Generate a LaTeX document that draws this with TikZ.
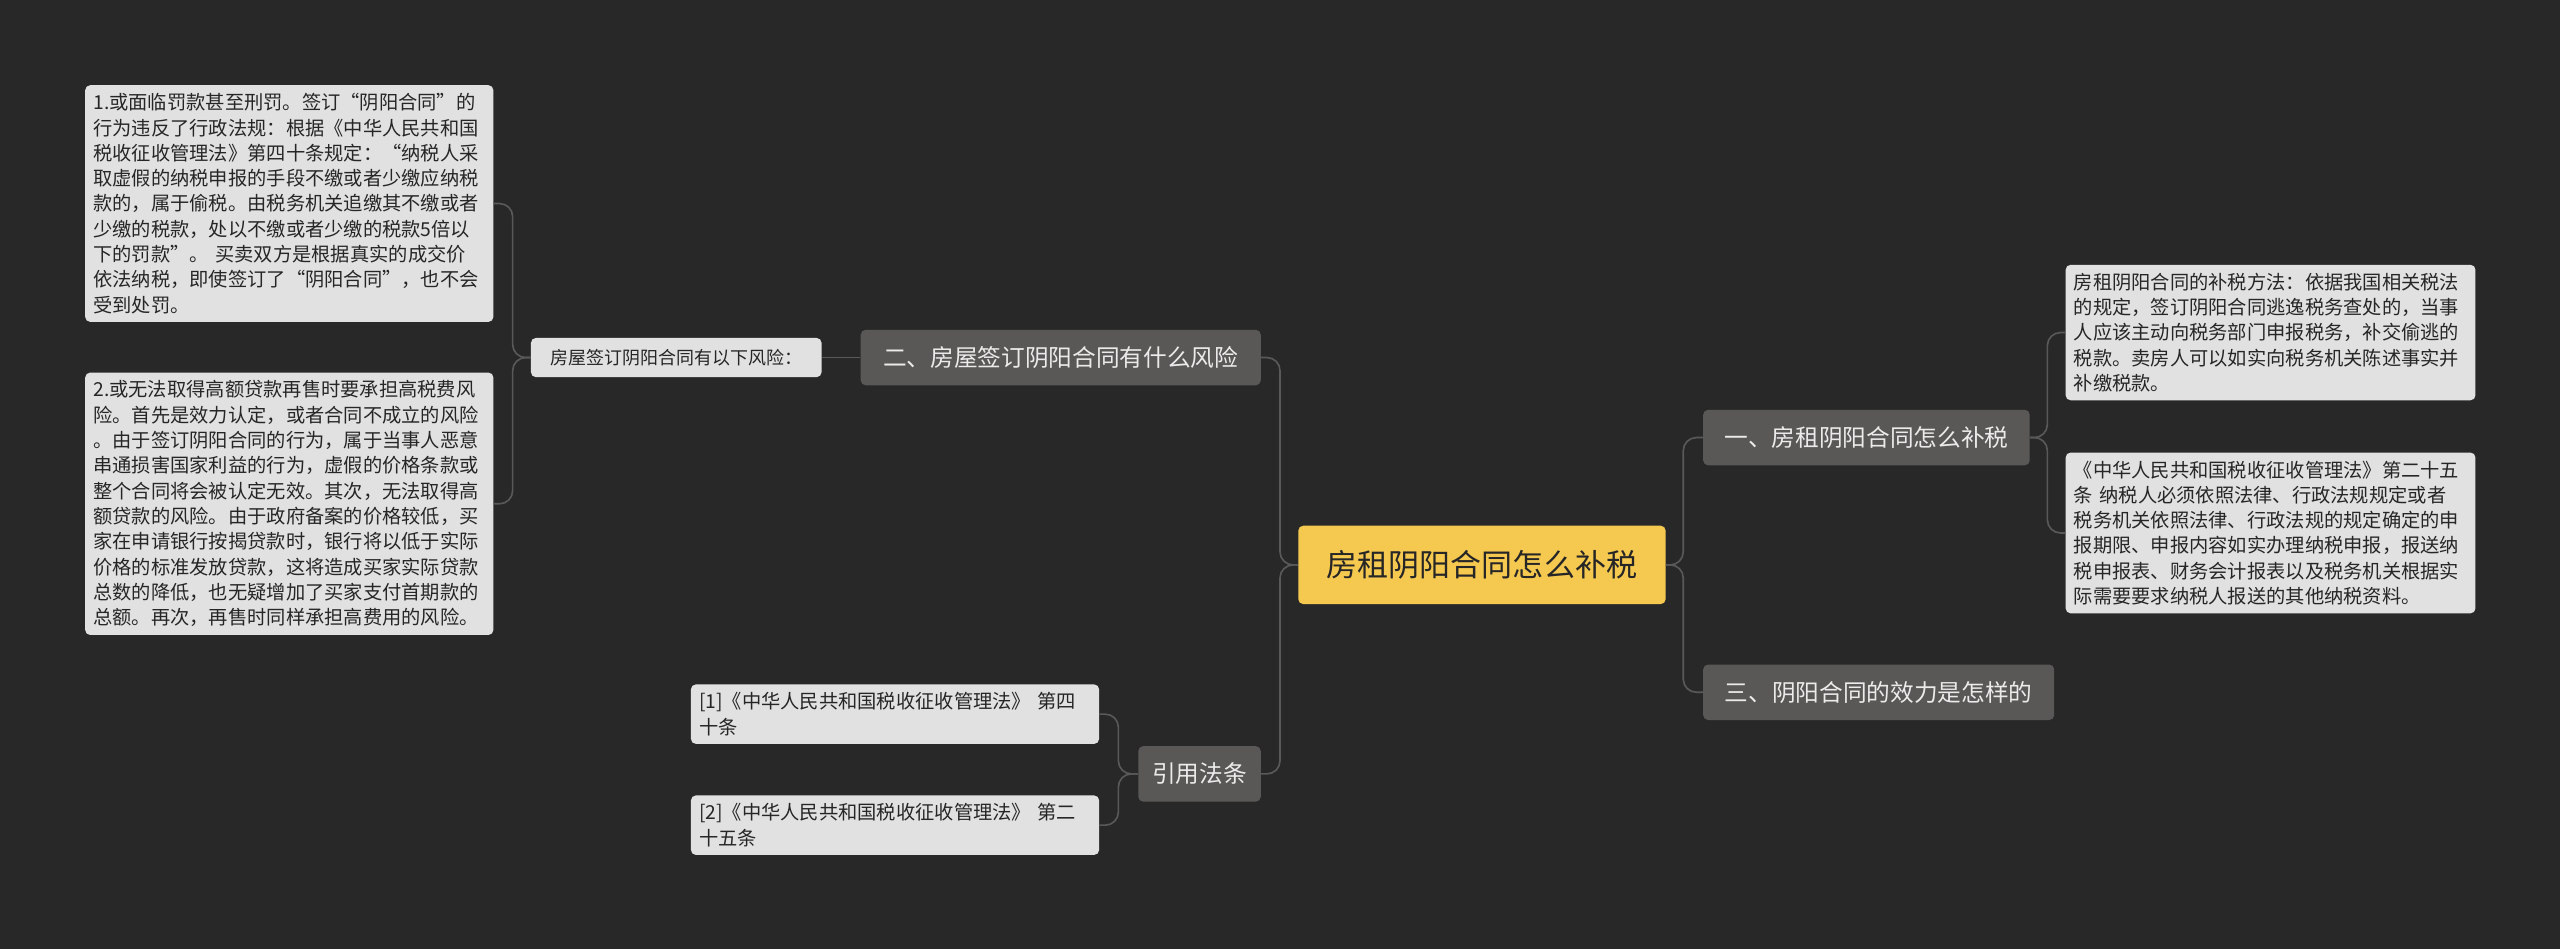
\documentclass[tikz,border=0pt]{standalone}
\usepackage{fontspec}
\setmainfont{Noto Sans CJK SC}
\definecolor{bg}{RGB}{40,40,40}
\definecolor{gold}{RGB}{245,200,80}
\definecolor{br}{RGB}{90,88,86}
\definecolor{lf}{RGB}{225,225,225}
\begin{document}
\begin{tikzpicture}[x=1pt,y=-1pt,
  conn/.style={draw=gray!70!black,line width=1pt,rounded corners=8pt},
  root/.style={fill=gold,rounded corners=3pt,text=black!85,font=\fontsize{19}{22}\selectfont,minimum height=48pt,minimum width=225pt,anchor=west},
  branch/.style={fill=br,rounded corners=3pt,text=white!92!black,font=\fontsize{14.5}{16}\selectfont,minimum height=34pt,anchor=west},
  leaf/.style={fill=lf,rounded corners=3pt,text=black!85,font=\fontsize{11.8}{15.5}\selectfont,align=left,inner sep=5pt,text width=240pt,anchor=north west},
]
\fill[bg] (0,0) rectangle (1568,581);
\useasboundingbox (0,0) rectangle (1568,581);

\node[root] (c) at (795,346) {房租阴阳合同怎么补税};
\node[branch,minimum width=245pt] (b2) at (527,219) {二、房屋签订阴阳合同有什么风险};
\node[leaf,text width=,anchor=west,font=\fontsize{11}{13}\selectfont,minimum height=24pt,minimum width=178pt] (s) at (325,219) {房屋签订阴阳合同有以下风险：};
\node[leaf] (l1) at (52,52) {1.或面临罚款甚至刑罚。签订“阴阳合同”的\\行为违反了行政法规：根据《中华人民共和国\\税收征收管理法》第四十条规定：“纳税人采\\取虚假的纳税申报的手段不缴或者少缴应纳税\\款的，属于偷税。由税务机关追缴其不缴或者\\少缴的税款，处以不缴或者少缴的税款5倍以\\下的罚款”。 买卖双方是根据真实的成交价\\依法纳税，即使签订了“阴阳合同”，也不会\\受到处罚。};
\node[leaf] (l2) at (52,228) {2.或无法取得高额贷款再售时要承担高税费风\\险。首先是效力认定，或者合同不成立的风险\\。由于签订阴阳合同的行为，属于当事人恶意\\串通损害国家利益的行为，虚假的价格条款或\\整个合同将会被认定无效。其次，无法取得高\\额贷款的风险。由于政府备案的价格较低，买\\家在申请银行按揭贷款时，银行将以低于实际\\价格的标准发放贷款，这将造成买家实际贷款\\总数的降低，也无疑增加了买家支付首期款的\\总额。再次，再售时同样承担高费用的风险。};
\node[branch,minimum width=75pt] (b4) at (697,474) {引用法条};
\node[leaf] (r1) at (423,419) {[1]《中华人民共和国税收征收管理法》 第四\\十条};
\node[leaf] (r2) at (423,487) {[2]《中华人民共和国税收征收管理法》 第二\\十五条};
\node[branch,minimum width=200pt] (b1) at (1043,268) {一、房租阴阳合同怎么补税};
\node[leaf,text width=241pt] (q1) at (1265,162) {房租阴阳合同的补税方法：依据我国相关税法\\的规定，签订阴阳合同逃逸税务查处的，当事\\人应该主动向税务部门申报税务，补交偷逃的\\税款。卖房人可以如实向税务机关陈述事实并\\补缴税款。};
\node[leaf,text width=241pt] (q2) at (1265,277) {《中华人民共和国税收征收管理法》第二十五\\条 纳税人必须依照法律、行政法规规定或者\\税务机关依照法律、行政法规的规定确定的申\\报期限、申报内容如实办理纳税申报，报送纳\\税申报表、财务会计报表以及税务机关根据实\\际需要要求纳税人报送的其他纳税资料。};
\node[branch,minimum width=215pt] (b3) at (1043,424) {三、阴阳合同的效力是怎样的};

\draw[conn] (c.west) -- (784,346) |- (b2.east);
\draw[conn] (c.west) -- (784,346) |- (b4.east);
\draw[conn] (c.east) -- (1031,346) |- (b1.west);
\draw[conn] (c.east) -- (1031,346) |- (b3.west);
\draw[conn] (b2.west) -- (s.east);
\draw[conn] (s.west) -- (314,219) |- (l1.east);
\draw[conn] (s.west) -- (314,219) |- (l2.east);
\draw[conn] (b4.west) -- (685,474) |- (r1.east);
\draw[conn] (b4.west) -- (685,474) |- (r2.east);
\draw[conn] (b1.east) -- (1254,268) |- (q1.west);
\draw[conn] (b1.east) -- (1254,268) |- (q2.west);
\end{tikzpicture}
\end{document}
